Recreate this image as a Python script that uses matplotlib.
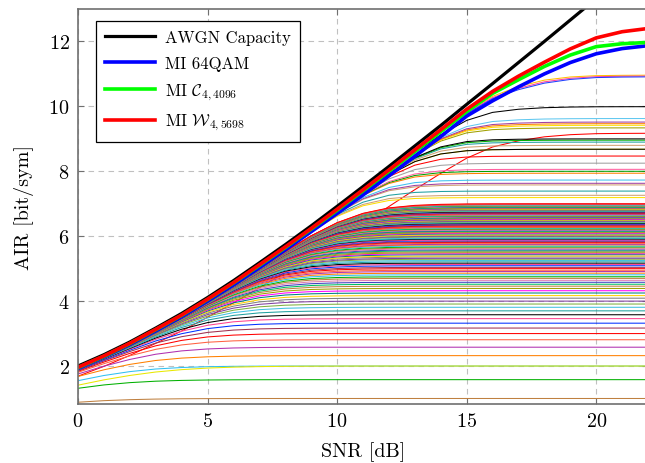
import numpy as np
import matplotlib
matplotlib.use("Agg")
import matplotlib.pyplot as plt

plt.rcParams['font.family'] = ['cmr10', 'DejaVu Serif']
plt.rcParams['mathtext.fontset'] = 'cm'
plt.rcParams['axes.formatter.use_mathtext'] = True

# ---------------- data ----------------
snr_db = [0, 1, 2, 3, 4, 5, 6, 7, 8, 9, 10, 11, 12, 13, 14, 15, 16, 17, 18, 19, 20, 21, 22]
awgn = [2.00, 2.35, 2.74, 3.17, 3.62, 4.11, 4.63, 5.18, 5.74, 6.32, 6.92, 7.53, 8.15,
        8.78, 9.41, 10.06, 10.70, 11.35, 12.00, 12.66, 13.32, 13.97, 14.63]
mi_64qam = [1.93, 2.28, 2.66, 3.08, 3.52, 4.00, 4.50, 5.03, 5.58, 6.14, 6.70, 7.27, 7.86,
            8.46, 9.07, 9.70, 10.17, 10.60, 11.00, 11.35, 11.62, 11.78, 11.87]
mi_c4 = [1.95, 2.30, 2.69, 3.12, 3.56, 4.05, 4.56, 5.10, 5.65, 6.22, 6.80, 7.40, 8.00,
         8.61, 9.22, 9.84, 10.40, 10.82, 11.23, 11.58, 11.84, 11.93, 11.97]
mi_w4 = [1.96, 2.31, 2.70, 3.13, 3.57, 4.06, 4.57, 5.12, 5.67, 6.24, 6.83, 7.43, 8.04,
         8.66, 9.28, 9.91, 10.46, 10.93, 11.36, 11.77, 12.11, 12.30, 12.40]

# saturation levels of the thin constellation curves [bit/sym]
dense_levels = [1.00, 1.58, 2.00, 2.32, 2.58, 2.81, 3.00, 3.17, 3.32, 3.46, 3.58, 3.70, 3.81,
                3.91, 4.00, 4.09, 4.17, 4.25, 4.32, 4.39, 4.46, 4.52, 4.58, 4.64, 4.70, 4.75,
                4.81, 4.86, 4.91, 4.95, 5.00, 5.04, 5.09, 5.13, 5.17, 5.21, 5.25, 5.29, 5.32,
                5.36, 5.39, 5.43, 5.46, 5.49, 5.52, 5.55, 5.58, 5.61, 5.64, 5.67, 5.70, 5.73,
                5.75, 5.78, 5.81, 5.83, 5.86, 5.88, 5.91, 5.93, 5.95, 5.98, 6.00, 6.02, 6.04,
                6.07, 6.09, 6.11, 6.13, 6.15, 6.17, 6.19, 6.21, 6.23, 6.25, 6.27, 6.29, 6.30,
                6.32, 6.34, 6.36, 6.38, 6.39, 6.41, 6.43, 6.44, 6.46, 6.48, 6.49, 6.51, 6.52,
                6.54, 6.55, 6.57, 6.58, 6.60, 6.61, 6.63, 6.64, 6.66, 6.67, 6.69, 6.70, 6.71,
                6.73, 6.74, 6.75, 6.77, 6.78, 6.79, 6.81, 6.82, 6.83, 6.85, 6.86, 6.87, 6.88,
                6.89, 6.91, 6.92, 6.93, 6.94, 6.95, 6.97, 6.98, 6.99, 7.00]
dense_palette = ['#bf8040', '#00b000', '#30c0f0', '#ff8000', '#b030b0', '#ff6040', '#ff0000',
                 '#a03050', '#0030ff', '#ff4090', '#000000', '#20a0a0', '#40c0e0', '#80b040',
                 '#8040a0', '#808080', '#ffd000', '#008080', '#ff00ff', '#a0a000', '#c08040',
                 '#00c060', '#4040c0', '#e080b0']

upper_levels = [7.19, 7.26, 7.39, 7.58, 7.63, 7.73, 7.94, 8.00, 8.06, 8.25, 8.47, 8.68, 8.68,
                8.80, 8.90, 8.96, 9.00, 9.34, 9.42, 9.47, 9.52, 9.63, 10.00, 11.00, 11.00, 11.00]
upper_colors = ['#ffe000', '#d0a070', '#20a0a0', '#d0a070', '#a040a0', '#40c0f0', '#ff8000',
                '#00a000', '#ff60a0', '#a0a0a0', '#ff0000', '#ffe000', '#000000', '#d0a070',
                '#20a0a0', '#00b000', '#000000', '#a0a000', '#ffe000', '#ff8000', '#a040a0',
                '#60c8f0', '#000000', '#ffc000', '#ff40a0', '#2040ff']
upper_soft = [0.5] * 23 + [0.42, 0.5, 0.56]

# curves with a different shape: (level, softness, relative gap to the envelope, colour)
special_curves = [(2.00, 0.8, 0.0, '#e8e800'), (9.22, 0.5, 0.135, '#ff0000')]

# ---------------- figure ----------------
fig = plt.figure(figsize=(6.45, 4.64), dpi=100)
ax = fig.add_axes([78 / 645, 1 - 405 / 464, 570 / 645, 395 / 464])

x = np.array(snr_db, dtype=float)
env_upper = np.array(mi_c4)
env_dense = np.array(mi_64qam)


def saturate(env, level, k, gap=0.0):
    e = env * (1.0 - gap)
    return -k * np.logaddexp(-e / k, -level / k)


thin_lw = 0.75
L, k, g, c = special_curves[1]
ax.plot(x, saturate(env_upper, L, k, g), color=c, lw=thin_lw)
for i, L in enumerate(dense_levels):
    ax.plot(x, saturate(env_dense, L, 0.6), color=dense_palette[i % len(dense_palette)],
            lw=thin_lw)
L, k, g, c = special_curves[0]
ax.plot(x, saturate(env_dense, L, k, g), color=c, lw=thin_lw)
for L, c, k in zip(upper_levels, upper_colors, upper_soft):
    ax.plot(x, saturate(env_upper, L, k), color=c, lw=thin_lw)

ax.plot(x, awgn, color='black', lw=2.3, label='AWGN Capacity')
ax.plot(x, mi_64qam, color='#0000ff', lw=2.6, label='MI 64QAM')
ax.plot(x, mi_c4, color='#00ff00', lw=2.6, label=r'MI $\mathcal{C}_{4,4096}$')
ax.plot(x, mi_w4, color='#ff0000', lw=2.6, label=r'MI $\mathcal{W}_{4,5698}$')

ax.set_xlim(0, 22)
ax.set_ylim(0.83, 13.0)
ax.set_xticks([0, 5, 10, 15, 20])
ax.set_yticks([2, 4, 6, 8, 10, 12])
ax.grid(True, color='#c0c0c0', linestyle=(0, (5, 4)), linewidth=0.8)
ax.set_axisbelow(True)
for sp in ax.spines.values():
    sp.set_color('#707070')
    sp.set_linewidth(1.2)
ax.tick_params(direction='in', length=4, width=0.8, color='#707070',
               top=True, right=True, labelsize=14.5, pad=6)
ax.set_xlabel('SNR [dB]', fontsize=14.5, labelpad=8)
ax.set_ylabel('AIR [bit/sym]', fontsize=14.5, labelpad=10)

leg = ax.legend(loc='upper left', bbox_to_anchor=(0.032, 0.97), borderaxespad=0,
                fontsize=12, frameon=True, fancybox=False, handlelength=3.0,
                labelspacing=0.62, borderpad=0.55, handletextpad=0.6)
leg.get_frame().set_edgecolor('black')
leg.get_frame().set_linewidth(0.9)
leg.get_frame().set_alpha(1.0)

fig.savefig('out.png', dpi=100)
